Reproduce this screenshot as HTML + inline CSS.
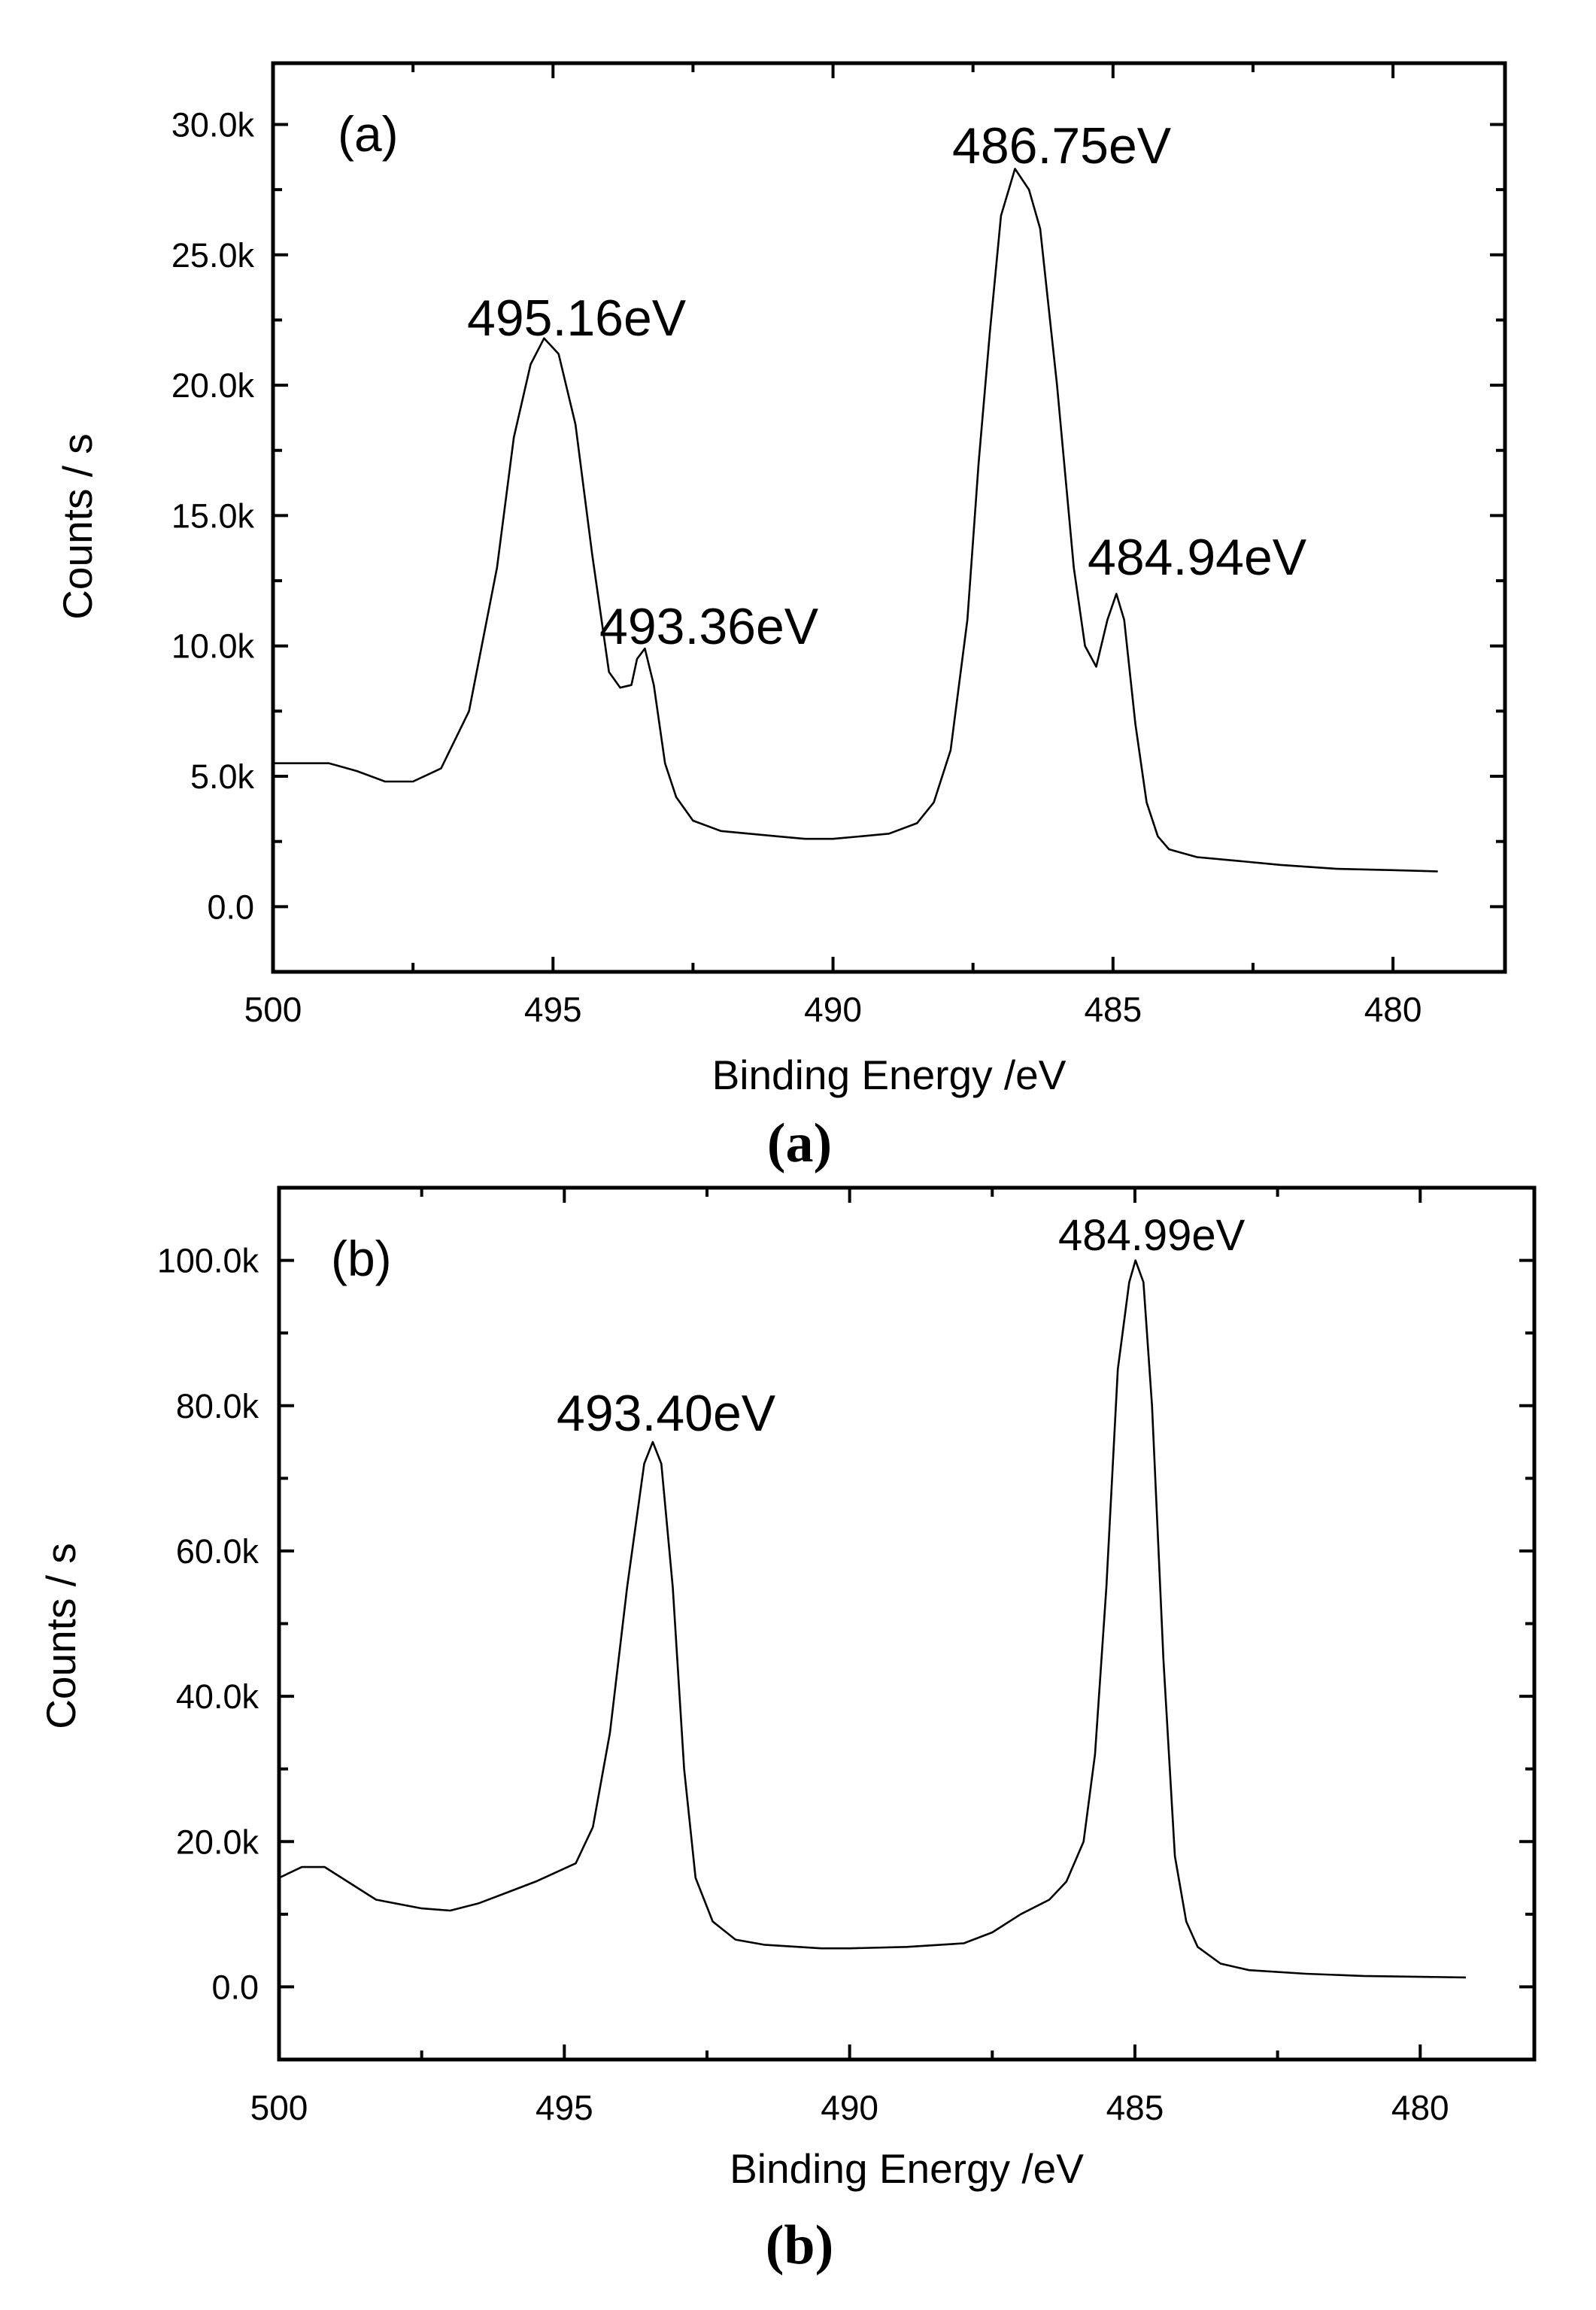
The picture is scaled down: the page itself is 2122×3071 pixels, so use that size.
<!DOCTYPE html>
<html><head><meta charset="utf-8"><style>
html,body{margin:0;padding:0;background:#fff}
svg{display:block}
text{font-family:"Liberation Sans",Arial,sans-serif;fill:#000}
</style></head>
<body>
<svg id="fig" width="2122" height="3071" viewBox="0 0 2122 3071" xmlns="http://www.w3.org/2000/svg">
<rect width="2122" height="3071" fill="#fff"/>
</svg>
<script>
// ---- Data: panel (a)
const aEnergy = [500,499,498.5,498,497.5,497,496.5,496,495.7,495.4,495.16,494.9,494.6,494.3,494,493.8,493.6,493.5,493.36,493.2,493,492.8,492.5,492,491.5,491,490.5,490,489.5,489,488.5,488.2,487.9,487.6,487.4,487.2,487,486.75,486.5,486.3,486,485.7,485.5,485.3,485.1,484.94,484.8,484.6,484.4,484.2,484,483.5,483,482,481,480,479.2];
const aCounts = [5.5,5.5,5.2,4.8,4.8,5.3,7.5,13,18,20.8,21.8,21.2,18.5,13.5,9,8.4,8.5,9.5,9.9,8.5,5.5,4.2,3.3,2.9,2.8,2.7,2.6,2.6,2.7,2.8,3.2,4,6,11,17,22,26.5,28.3,27.5,26,20,13,10,9.2,11,12,11,7,4,2.7,2.2,1.9,1.8,1.6,1.45,1.4,1.35];
const aYTicks = [0,5,10,15,20,25,30];
const aYLabels = ["0.0","5.0k","10.0k","15.0k","20.0k","25.0k","30.0k"];
// ---- Data: panel (b)
const bEnergy = [500,499.6,499.2,498.8,498.3,497.5,497,496.5,496,495.5,494.8,494.5,494.2,493.9,493.6,493.45,493.3,493.1,492.9,492.7,492.4,492,491.5,490.5,490,489,488,487.5,487,486.5,486.2,485.9,485.7,485.5,485.3,485.1,484.99,484.85,484.7,484.5,484.3,484.1,483.9,483.5,483,482,481,479.2];
const bCounts = [15,16.5,16.5,14.5,12,10.8,10.5,11.5,13,14.5,17,22,35,55,72,75,72,55,30,15,9,6.5,5.8,5.3,5.3,5.5,6,7.5,10,12,14.5,20,32,55,85,97,100,97,80,45,18,9,5.5,3.2,2.3,1.8,1.5,1.3];
const bYTicks = [0,20,40,60,80,100];
const bYLabels = ["0.0","20.0k","40.0k","60.0k","80.0k","100.0k"];
const xTicks = [500,495,490,485,480];
const xLabels = ["500","495","490","485","480"];

const NS="http://www.w3.org/2000/svg";
const svg=document.getElementById('fig');
function mk(tag,attrs,parent){const e=document.createElementNS(NS,tag);for(const k in attrs)e.setAttribute(k,attrs[k]);(parent||svg).appendChild(e);return e;}

function panel(cfg){
  const g=mk('g',{});
  
  
  const {L,R,T,B,xmin,xmax,ymin,ymax}=cfg;
  const sx=v=>L+(xmin-v)/(xmin-xmax)*(R-L);
  const sy=v=>B-(v-ymin)/(ymax-ymin)*(B-T);
  const fr=mk('rect',{x:L,y:T,width:R-L,height:B-T,fill:'none',stroke:'#000','stroke-width':5},g);
  
  
  for(let v=xmin; v>=xmax-0.001; v-=2.5){
    const x=sx(v), major=Math.abs(v%5)<0.01, len=major?20:12;
    mk('line',{x1:x,y1:B,x2:x,y2:B-len,stroke:'#000','stroke-width':4},g);
    mk('line',{x1:x,y1:T,x2:x,y2:T+len,stroke:'#000','stroke-width':4},g);
  }
  xTicks.forEach((v,i)=>{
    const t=mk('text',{x:sx(v),y:cfg.xLabelY,'font-size':46,'text-anchor':'middle'},g);
    t.textContent=xLabels[i];
    
    
  });
  const step=cfg.yTicks[1]-cfg.yTicks[0];
  for(let v=cfg.yTicks[0]-step; v<=ymax; v+=step/2){
    if(v<ymin) continue;
    const y=sy(v), major=Math.abs((v/step)-Math.round(v/step))<0.01, len=major?20:12;
    mk('line',{x1:L,y1:y,x2:L+len,y2:y,stroke:'#000','stroke-width':4},g);
    mk('line',{x1:R,y1:y,x2:R-len,y2:y,stroke:'#000','stroke-width':4},g);
  }
  cfg.yTicks.forEach((v,i)=>{
    const t=mk('text',{x:cfg.yLabelX,y:sy(v)+16,'font-size':45,'text-anchor':'end'},g);
    t.textContent=cfg.yLabels[i];
    
    
  });
  let d='';
  cfg.E.forEach((e,i)=>{d+=(i?'L':'M')+sx(e).toFixed(1)+','+sy(cfg.C[i]).toFixed(1);});
  const p=mk('path',{d:d,fill:'none',stroke:'#000','stroke-width':2.6,'stroke-linejoin':'round'},g);
  
  
  const xt=mk('text',{x:(L+R)/2,y:cfg.xTitleY,'font-size':55,'text-anchor':'middle'},g);
  xt.textContent='Binding Energy /eV';
  
  
  const yt=mk('text',{x:0,y:0,'font-size':55,'text-anchor':'middle',transform:`translate(${cfg.yTitleX},${cfg.yTitleY}) rotate(-90)`},g);
  yt.textContent='Counts / s';
  
  
  cfg.ann.forEach(a=>{
    const t=mk('text',{x:a[1],y:a[2],'font-size':a[3]},g);
    t.textContent=a[0];
    
    
  });
  const cap=mk('text',{x:1063,y:cfg.capY,'font-size':74,'text-anchor':'middle','font-weight':'bold',style:'font-family:"Liberation Serif",serif'},g);
  cap.textContent=cfg.cap;
  
  
}

panel({id:'panel-a',L:363,R:2001,T:84,B:1292,xmin:500,xmax:478,ymin:-2.5,ymax:32.35,
  E:aEnergy,C:aCounts,yTicks:aYTicks,yLabels:aYLabels,yLabelX:338,xLabelY:1358,xTitleY:1448,
  yTitleX:122,yTitleY:700,capY:1544,cap:'(a)',
  ann:[['(a)',449,201,66],['495.16eV',621,446,68],['486.75eV',1266,217,68],['484.94eV',1446,764,68],['493.36eV',797,856,68]]});

panel({id:'panel-b',L:371,R:2040,T:1579,B:2738,xmin:500,xmax:478,ymin:-10,ymax:110,
  E:bEnergy,C:bCounts,yTicks:bYTicks,yLabels:bYLabels,yLabelX:344,xLabelY:2818,xTitleY:2902,
  yTitleX:100,yTitleY:2175,capY:3009,cap:'(b)',
  ann:[['(b)',440,1696,66],['484.99eV',1407,1662,58],['493.40eV',740,1902,68]]});
</script>
</body></html>
